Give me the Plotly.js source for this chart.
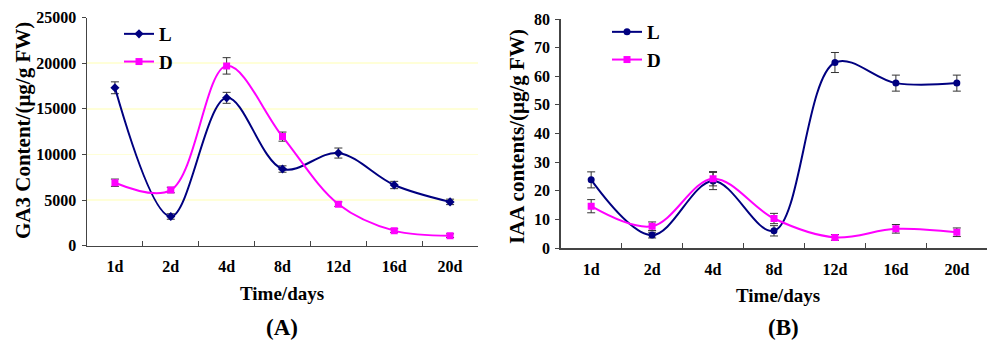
<!DOCTYPE html>
<html>
<head>
<meta charset="utf-8">
<script src="https://cdn.plot.ly/plotly-3.0.1.min.js"></script>
<style>html,body{margin:0;padding:0;background:#fff;}#chart{width:990px;height:342px;}</style>
</head>
<body>
<div id="chart"></div>
<script>
var days = ['1d', '2d', '4d', '8d', '12d', '16d', '20d'];

// Panel A: GA3 content (μg/g FW)
var ga3_L = [17300, 3200, 16200, 8400, 10150, 6650, 4800];
var ga3_L_err = [650, 300, 600, 350, 550, 400, 300];
var ga3_D = [6900, 6100, 19700, 11950, 4550, 1650, 1100];
var ga3_D_err = [400, 300, 900, 500, 250, 200, 200];

// Panel B: IAA contents (μg/g FW)
var iaa_L = [23.8, 4.5, 23.4, 6.0, 64.8, 57.6, 57.6];
var iaa_L_err = [2.8, 1.0, 3.0, 1.8, 3.5, 2.8, 2.8];
var iaa_D = [14.6, 7.6, 24.2, 10.3, 3.7, 6.7, 5.5];
var iaa_D_err = [2.3, 1.5, 2.5, 1.8, 1.0, 1.5, 1.5];

var seriesNames = ['L', 'D'];
var yTitleA = 'GA3 Content/(μg/g FW)';
var yTitleB = 'IAA contents/(μg/g FW)';
var xTitle = 'Time/days';

var navy = '#000080', magenta = '#ff00ff';
var FF = 'Liberation Serif, Times New Roman, serif';

function err(arr) {
  return {type: 'data', array: arr, visible: true, color: '#333333', thickness: 1, width: 4};
}
function tr(y, e, name, color, symbol, xa, ya, lg) {
  return {
    x: days, y: y, error_y: err(e), name: name, type: 'scatter', mode: 'lines+markers',
    line: {color: color, width: 2, shape: 'spline', smoothing: 1},
    marker: {color: color, symbol: symbol, size: 7},
    xaxis: xa, yaxis: ya, legend: lg
  };
}

var data = [
  tr(ga3_L, ga3_L_err, seriesNames[0], navy, 'diamond', 'x', 'y', 'legend'),
  tr(ga3_D, ga3_D_err, seriesNames[1], magenta, 'square', 'x', 'y', 'legend'),
  tr(iaa_L, iaa_L_err, seriesNames[0], navy, 'circle', 'x2', 'y2', 'legend2'),
  tr(iaa_D, iaa_D_err, seriesNames[1], magenta, 'square', 'x2', 'y2', 'legend2')
];

var tickFont = {family: FF, size: 16, color: '#000', weight: 'bold'};
function xax(dom, anchor) {
  return {
    domain: dom, anchor: anchor, type: 'category', range: [-0.5, 6.5],
    showline: true, linecolor: '#444', linewidth: 1.5, showgrid: false, zeroline: false,
    ticks: 'inside', tickson: 'boundaries', ticklen: 5, tickcolor: '#444', tickwidth: 1,
    tickfont: tickFont, ticklabelstandoff: 6, fixedrange: true
  };
}
function yax(dom, anchor, range, dtick, grid) {
  return {
    domain: dom, anchor: anchor, range: range, dtick: dtick, tick0: 0, tickformat: 'd',
    showline: true, linecolor: '#444', linewidth: 1.5, zeroline: false,
    showgrid: grid, gridcolor: '#ffffd8', gridwidth: 1.5,
    ticks: 'outside', ticklen: 4, tickcolor: '#444', tickwidth: 1,
    tickfont: tickFont, ticklabelstandoff: 2, fixedrange: true
  };
}

var legFont = {family: FF, size: 19, color: '#000', weight: 'bold'};
function ann(text, x, y, size, angle) {
  return {text: text, x: x, y: y, xref: 'paper', yref: 'paper', xanchor: 'center', yanchor: 'middle',
    showarrow: false, textangle: angle || 0, font: {family: FF, size: size, color: '#000', weight: 'bold'}};
}

var layout = {
  width: 990, height: 342,
  margin: {l: 0, r: 0, t: 0, b: 0},
  paper_bgcolor: '#fff', plot_bgcolor: 'rgba(0,0,0,0)',
  showlegend: true,
  xaxis: xax([87/990, 478/990], 'y'),
  yaxis: yax([1 - 245.7/342, 1 - 17.5/342], 'x', [0, 25000], 5000, true),
  xaxis2: xax([560.7/990, 987.3/990], 'y2'),
  yaxis2: yax([1 - 248/342, 1 - 19/342], 'x2', [0, 80], 10, false),
  legend: {x: 119/990, y: 1 - 15/342, xanchor: 'left', yanchor: 'top', bgcolor: 'rgba(255,255,255,0)',
    font: legFont, itemwidth: 30, tracegroupgap: 0},
  legend2: {x: 607/990, y: 1 - 13/342, xanchor: 'left', yanchor: 'top', bgcolor: 'rgba(255,255,255,0)',
    font: legFont, itemwidth: 30, tracegroupgap: 0},
  annotations: [
    ann(xTitle, 281.7/990, 1 - 293/342, 19),
    ann('(A)', 282/990, 1 - 327/342, 23),
    ann(xTitle, 777.7/990, 1 - 295/342, 19),
    ann('(B)', 783.3/990, 1 - 327/342, 23),
    ann(yTitleA, 23/990, 1 - 131/342, 21, -90),
    ann(yTitleB, 517/990, 1 - 137/342, 21, -90)
  ]
};

Plotly.newPlot('chart', data, layout, {displayModeBar: false, staticPlot: true});
</script>
</body>
</html>
